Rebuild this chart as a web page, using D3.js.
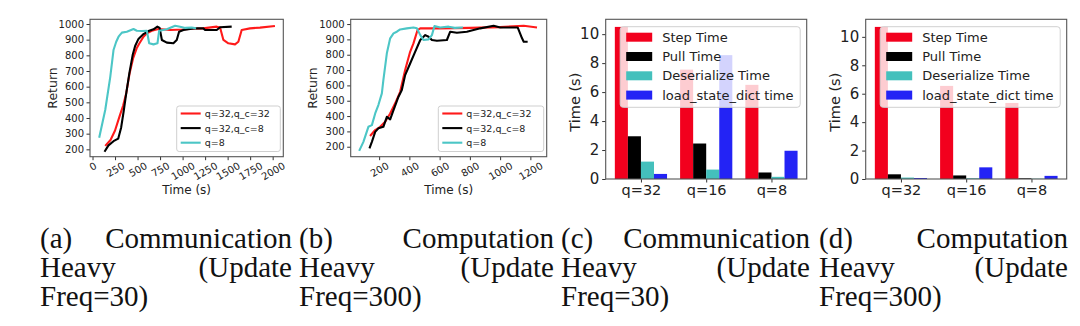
<!DOCTYPE html>
<html>
<head>
<meta charset="utf-8">
<script src="https://cdn.jsdelivr.net/npm/d3@7"></script>
<style>
  body { margin: 0; background: #fff; }
  svg { display: block; }
  text { font-family: "DejaVu Sans", sans-serif; fill: #222; }
  text.cap { font-family: "Liberation Serif", "Times New Roman", serif; fill: #111; }
</style>
</head>
<body>
<svg id="chart" width="1080" height="326"></svg>
<script>
// ---------------- data ----------------
// panel (a): [time (s), return]
const redA = [[141,222],[200,260],[250,320],[300,410],[340,480],[375,560],[410,680],[450,780],[490,845],[521,877],[566,919],[603,941],[658,957],[732,968],[862,962],[1000,965],[1100,970],[1227,972],[1379,983],[1416,978],[1453,898],[1508,877],[1582,870],[1619,887],[1656,962],[1748,972],[1859,977],[2025,987]];
const blackA = [[133,185],[177,225],[233,252],[285,268],[318,340],[345,440],[375,560],[410,690],[445,800],[473,860],[510,905],[566,936],[621,955],[677,966],[720,983],[745,975],[770,898],[825,881],[898,877],[935,898],[961,951],[1009,962],[1120,972],[1230,972],[1250,962],[1379,962],[1416,979],[1545,983]];
const cyanA = [[74,274],[141,451],[197,663],[233,834],[263,887],[289,919],[326,945],[381,951],[455,968],[492,957],[547,955],[603,957],[629,877],[677,870],[721,877],[740,957],[825,966],[917,989],[972,983],[1030,975],[1100,978],[1150,972]];
// panel (b)
const redB = [[140,270],[174,309],[207,330],[240,363],[273,417],[306,483],[339,558],[372,700],[405,819],[427,874],[454,961],[472,972],[600,972],[800,975],[1000,980],[1156,989],[1244,978]];
const blackB = [[136,189],[152,232],[174,297],[195,320],[228,330],[251,395],[273,378],[295,439],[328,526],[350,570],[372,667],[405,743],[438,819],[472,896],[505,928],[527,917],[549,896],[582,891],[648,896],[670,950],[714,943],[780,950],[869,972],[957,989],[1001,978],[1116,978],[1145,907],[1156,885],[1182,885]];
const cyanB = [[68,173],[96,232],[129,330],[152,341],[174,417],[195,472],[218,548],[228,635],[251,809],[273,907],[295,939],[317,950],[339,965],[383,972],[427,978],[450,972],[472,928],[493,896],[527,900],[549,928],[566,987],[604,978],[659,983],[700,975],[754,978]];

const lineNames = ["q=32,q_c=32", "q=32,q_c=8", "q=8"];
const returnTicks = [200, 300, 400, 500, 600, 700, 800, 900, 1000];
const timeTicksA = [0, 250, 500, 750, 1000, 1250, 1500, 1750, 2000];
const timeTicksB = [200, 400, 600, 800, 1000, 1200];

// panels (c) and (d): seconds per group
const groups = ["q=32", "q=16", "q=8"];
const barNames = ["Step Time", "Pull Time", "Deserialize Time", "load_state_dict time"];
const stepC = [10.5, 7.55, 6.5];
const pullC = [2.95, 2.45, 0.45];
const deserC = [1.2, 0.65, 0.15];
const loadC = [0.35, 8.55, 1.95];
const stepD = [10.7, 6.55, 5.35];
const pullD = [0.33, 0.25, 0.05];
const deserD = [0.1, 0.05, 0.02];
const loadD = [0.07, 0.82, 0.22];
const timeTicksBar = [0, 2, 4, 6, 8, 10];

// captions
const captions = [
  { lines: [["(a)", "Communication"], ["Heavy", "(Update"], ["Freq=30)"]] },
  { lines: [["(b)", "Computation"], ["Heavy", "(Update"], ["Freq=300)"]] },
  { lines: [["(c)", "Communication"], ["Heavy", "(Update"], ["Freq=30)"]] },
  { lines: [["(d)", "Computation"], ["Heavy", "(Update"], ["Freq=300)"]] }
];

const lineColors = ["#ff1a1a", "#000000", "#4cc6c6"];
const barColors = ["#f2001d", "#000000", "#44c0bc", "#2323f5"];

const svg = d3.select("#chart");
svg.append("rect").attr("width", 1080).attr("height", 326).attr("fill", "#fff");

function linePanel(p) {
  const x = d3.scaleLinear().domain(p.xDomain).range([p.left, p.right]);
  const y = d3.scaleLinear().domain(p.yDomain).range([p.bottom, p.top]);
  const g = svg.append("g");

  const clipId = "clip" + p.id;
  g.append("clipPath").attr("id", clipId).append("rect")
    .attr("x", p.left).attr("y", p.top)
    .attr("width", p.right - p.left).attr("height", p.bottom - p.top);

  // y axis
  const ya = g.append("g").attr("transform", `translate(${p.left},0)`)
    .call(d3.axisLeft(y).tickValues(returnTicks).tickFormat(d3.format("d"))
      .tickSize(3.5).tickPadding(2.5).tickSizeOuter(0));
  ya.select(".domain").remove();
  ya.selectAll("line").attr("stroke", "#333");
  ya.selectAll("text").style("font-size", "10px").style("font-family", "DejaVu Sans").attr("fill", "#262626");

  // x axis with rotated labels
  const xa = g.append("g").attr("transform", `translate(0,${p.bottom})`)
    .call(d3.axisBottom(x).tickValues(p.xTicks).tickFormat(d3.format("d"))
      .tickSize(3.5).tickSizeOuter(0));
  xa.select(".domain").remove();
  xa.selectAll("line").attr("stroke", "#333");
  xa.selectAll("text")
    .style("font-size", "10px").style("font-family", "DejaVu Sans").attr("fill", "#262626")
    .attr("text-anchor", "middle").attr("dy", null).attr("y", 0)
    .attr("dominant-baseline", "central")
    .each(function () {
      const w = this.getComputedTextLength();
      const h = 10.5;
      const half = (w * 0.5 + h * 0.866) / 2;
      d3.select(this).attr("transform", `translate(0,${3.5 + half}) rotate(-30)`);
    });

  g.append("text").attr("x", (p.left + p.right) / 2).attr("y", 189.5)
    .attr("text-anchor", "middle").attr("dominant-baseline", "central")
    .style("font-size", "12px").text("Time (s)");
  g.append("text")
    .attr("transform", `translate(${p.left - 38},${(p.top + p.bottom) / 2}) rotate(-90)`)
    .attr("text-anchor", "middle").attr("dominant-baseline", "central")
    .style("font-size", "12.5px").text("Return");

  const line = d3.line().x(d => x(d[0])).y(d => y(d[1]));
  p.series.forEach((s, i) => {
    g.append("path").datum(s)
      .attr("clip-path", `url(#${clipId})`)
      .attr("fill", "none").attr("stroke", lineColors[i])
      .attr("stroke-width", 2.1).attr("stroke-linejoin", "round")
      .attr("d", line);
  });

  // legend
  const lg = g.append("g");
  lg.append("rect").attr("x", p.legX).attr("y", 106).attr("width", p.right - 3 - p.legX).attr("height", 45.5)
    .attr("rx", 2.5).attr("fill", "#fff").attr("fill-opacity", 0.8)
    .attr("stroke", "#cfcfcf").attr("stroke-width", 1);
  lineNames.forEach((n, i) => {
    const cy = 113.5 + i * 14.6;
    lg.append("line").attr("x1", p.legX + 4).attr("x2", p.legX + 24)
      .attr("y1", cy).attr("y2", cy).attr("stroke", lineColors[i]).attr("stroke-width", 2.1);
    lg.append("text").attr("x", p.legX + 28).attr("y", cy)
      .attr("dominant-baseline", "central").style("font-size", "9.5px").text(n);
  });

  g.append("rect").attr("x", p.left).attr("y", p.top)
    .attr("width", p.right - p.left).attr("height", p.bottom - p.top)
    .attr("fill", "none").attr("stroke", "#555").attr("stroke-width", 1.1);
}

function barPanel(p) {
  const x = d3.scaleLinear().domain([-0.54, groups.length - 1 + 0.54]).range([p.left, p.right]);
  const yMax = 1.05 * d3.max(p.series.flat());
  const y = d3.scaleLinear().domain([0, yMax]).range([p.bottom, p.top]);
  const g = svg.append("g");
  const bw = 0.2;

  const ya = g.append("g").attr("transform", `translate(${p.left},0)`)
    .call(d3.axisLeft(y).tickValues(timeTicksBar).tickSize(3.5).tickPadding(3).tickSizeOuter(0));
  ya.select(".domain").remove();
  ya.selectAll("line").attr("stroke", "#333");
  ya.selectAll("text").style("font-size", "15px").style("font-family", "DejaVu Sans").attr("fill", "#222");

  const xa = g.append("g").attr("transform", `translate(0,${p.bottom})`)
    .call(d3.axisBottom(x).tickValues(groups.map((d, i) => i)).tickFormat(i => groups[i])
      .tickSize(3.5).tickPadding(2.5).tickSizeOuter(0));
  xa.select(".domain").remove();
  xa.selectAll("line").attr("stroke", "#333");
  xa.selectAll("text").style("font-size", "14.5px").style("font-family", "DejaVu Sans").attr("fill", "#222");

  g.append("text")
    .attr("transform", `translate(${p.left - 31},${(p.top + p.bottom) / 2 + 3}) rotate(-90)`)
    .attr("text-anchor", "middle").attr("dominant-baseline", "central")
    .style("font-size", "14.5px").text("Time (s)");

  p.series.forEach((s, k) => {
    g.selectAll(null).data(s).enter().append("rect")
      .attr("x", (d, i) => x(i - 0.4 + k * bw))
      .attr("width", x(bw) - x(0))
      .attr("y", d => y(d))
      .attr("height", d => y(0) - y(d))
      .attr("fill", barColors[k]);
  });

  const lx = p.left + 14.5;
  const lg = g.append("g");
  lg.append("rect").attr("x", lx).attr("y", 26.7).attr("width", 180).attr("height", 80.6)
    .attr("rx", 3).attr("fill", "#fff").attr("fill-opacity", 0.8)
    .attr("stroke", "#d0d0d0").attr("stroke-width", 1);
  barNames.forEach((n, i) => {
    const cy = 37.2 + i * 19.3;
    lg.append("rect").attr("x", lx + 6).attr("y", cy - 4.5).attr("width", 26).attr("height", 9)
      .attr("fill", barColors[i]);
    lg.append("text").attr("x", lx + 42).attr("y", cy)
      .attr("dominant-baseline", "central").style("font-size", "13px").text(n);
  });

  g.append("rect").attr("x", p.left).attr("y", p.top)
    .attr("width", p.right - p.left).attr("height", p.bottom - p.top)
    .attr("fill", "none").attr("stroke", "#555").attr("stroke-width", 1.1);
}

linePanel({ id: "a", left: 90, right: 283.3, top: 19.3, bottom: 156.7,
  xDomain: [-28, 2118], yDomain: [153, 1030], xTicks: timeTicksA,
  series: [redA, blackA, cyanA], legX: 176.7 });
linePanel({ id: "b", left: 350.7, right: 546.7, top: 19.3, bottom: 156.7,
  xDomain: [12, 1308], yDomain: [135, 1031], xTicks: timeTicksB,
  series: [redB, blackB, cyanB], legX: 438.3 });
barPanel({ left: 605.7, right: 806.7, top: 19.3, bottom: 179,
  series: [stepC, pullC, deserC, loadC] });
barPanel({ left: 865.7, right: 1066.7, top: 19.3, bottom: 179,
  series: [stepD, pullD, deserD, loadD] });

// captions, justified inside each column
const capCols = [[40, 292], [299, 554], [561, 810], [819, 1068]];
const capBase = [248, 277, 306];
captions.forEach((c, ci) => {
  const [x0, x1] = capCols[ci];
  c.lines.forEach((ws, li) => {
    svg.append("text").attr("class", "cap").attr("x", x0).attr("y", capBase[li])
      .style("font-size", "29px").text(ws[0]);
    if (ws.length > 1) {
      svg.append("text").attr("class", "cap").attr("x", x1).attr("y", capBase[li])
        .attr("text-anchor", "end").style("font-size", "29px").text(ws[1]);
    }
  });
});
</script>
</body>
</html>
